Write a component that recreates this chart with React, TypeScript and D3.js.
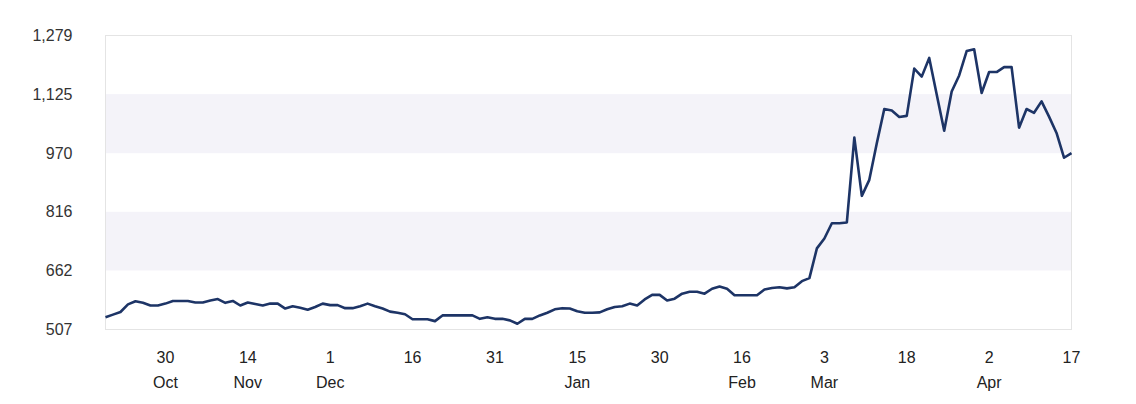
import React, { useRef, useEffect } from 'react';
import * as d3 from 'd3';

// one value per trading day
const prices = [
  539, 546, 553, 573, 581, 577, 570, 570, 575, 582,
  582, 582, 578, 578, 583, 587, 577, 582, 570, 578,
  574, 570, 575, 575, 562, 568, 564, 559, 566, 575,
  571, 571, 563, 563, 568, 575, 568, 562, 554, 551,
  547, 534, 534, 534, 529, 544, 544, 544, 544, 544,
  535, 539, 535, 535, 531, 522, 535, 535, 544, 551,
  560, 563, 562, 555, 551, 551, 552, 560, 566, 568,
  575, 570, 586, 598, 598, 583, 588, 601, 606, 606,
  601, 614, 620, 614, 597, 597, 597, 597, 612, 616,
  618, 615, 618, 634, 642, 720, 746, 786, 786, 788,
  1011, 858, 900, 996, 1086, 1082, 1065, 1068, 1192, 1171,
  1220, 1124, 1029, 1132, 1174, 1238, 1243, 1128, 1183, 1183,
  1196, 1196, 1037, 1086, 1076, 1106, 1066, 1023, 958, 970,
];

const yTicks = [507, 662, 816, 970, 1125, 1279];

// x ticks sit every 11 trading days
const tickIndex = [8, 19, 30, 41, 52, 63, 74, 85, 96, 107, 118, 129];
const tickDay = ['30', '14', '1', '16', '31', '15', '30', '16', '3', '18', '2', '17'];
const tickMonth = ['Oct', 'Nov', 'Dec', '', '', 'Jan', '', 'Feb', 'Mar', '', 'Apr', ''];

const W = 1136;
const H = 404;

export default function App() {
  const ref = useRef<SVGSVGElement>(null);

  useEffect(() => {
    const margin = { top: 35.5, right: 64.5, bottom: 74.5, left: 105.5 };
    const width = W - margin.left - margin.right;
    const height = H - margin.top - margin.bottom;

    const root = d3.select(ref.current);
    root.selectAll('*').remove();

    const svg = root.append('g')
      .attr('transform', 'translate(' + margin.left + ',' + margin.top + ')');

    const x = d3.scaleLinear()
      .domain([0, prices.length - 1])
      .range([0, width]);

    const y = d3.scaleLinear()
      .domain([yTicks[0], yTicks[yTicks.length - 1]])
      .range([height, 0]);

    // alternating bands
    svg.selectAll('rect.band')
      .data(d3.range(yTicks.length - 1).filter(i => i % 2 === 1))
      .enter()
      .append('rect')
      .attr('class', 'band')
      .attr('x', 0)
      .attr('width', width)
      .attr('y', i => y(yTicks[i + 1]))
      .attr('height', i => y(yTicks[i]) - y(yTicks[i + 1]))
      .attr('fill', '#f4f3f9');

    // frame
    svg.append('rect')
      .attr('x', 0)
      .attr('y', 0)
      .attr('width', width)
      .attr('height', height)
      .attr('fill', 'none')
      .attr('stroke', '#e4e4e4')
      .attr('stroke-width', 1);

    // y labels
    svg.selectAll('text.ylab')
      .data(yTicks)
      .enter()
      .append('text')
      .attr('class', 'ylab')
      .attr('x', -33)
      .attr('y', d => y(d))
      .attr('dy', '0.35em')
      .attr('text-anchor', 'end')
      .attr('fill', '#333')
      .style('font-family', 'Arial, "Liberation Sans", sans-serif')
      .style('font-size', '16px')
      .text(d => d3.format(',')(d));

    // x labels
    const xl = svg.selectAll('g.xlab')
      .data(tickIndex)
      .enter()
      .append('g')
      .attr('class', 'xlab')
      .attr('transform', d => 'translate(' + x(d) + ',0)');
    xl.append('text')
      .attr('y', height + 33)
      .attr('text-anchor', 'middle')
      .attr('fill', '#222')
      .style('font-family', 'Arial, "Liberation Sans", sans-serif')
      .style('font-size', '16px')
      .text((d, i) => tickDay[i]);
    xl.append('text')
      .attr('y', height + 58)
      .attr('text-anchor', 'middle')
      .attr('fill', '#222')
      .style('font-family', 'Arial, "Liberation Sans", sans-serif')
      .style('font-size', '16px')
      .text((d, i) => tickMonth[i]);

    // price line
    svg.append('path')
      .datum(prices)
      .attr('fill', 'none')
      .attr('stroke', '#1d3466')
      .attr('stroke-width', 2.6)
      .attr('stroke-linejoin', 'round')
      .attr('d', d3.line<number>()
        .x((d, i) => x(i))
        .y(d => y(d)));
  }, []);

  return (
    <svg
      ref={ref}
      width={W}
      height={H}
      style={{ position: 'absolute', left: 0, top: 0, background: '#fff' }}
    />
  );
}
